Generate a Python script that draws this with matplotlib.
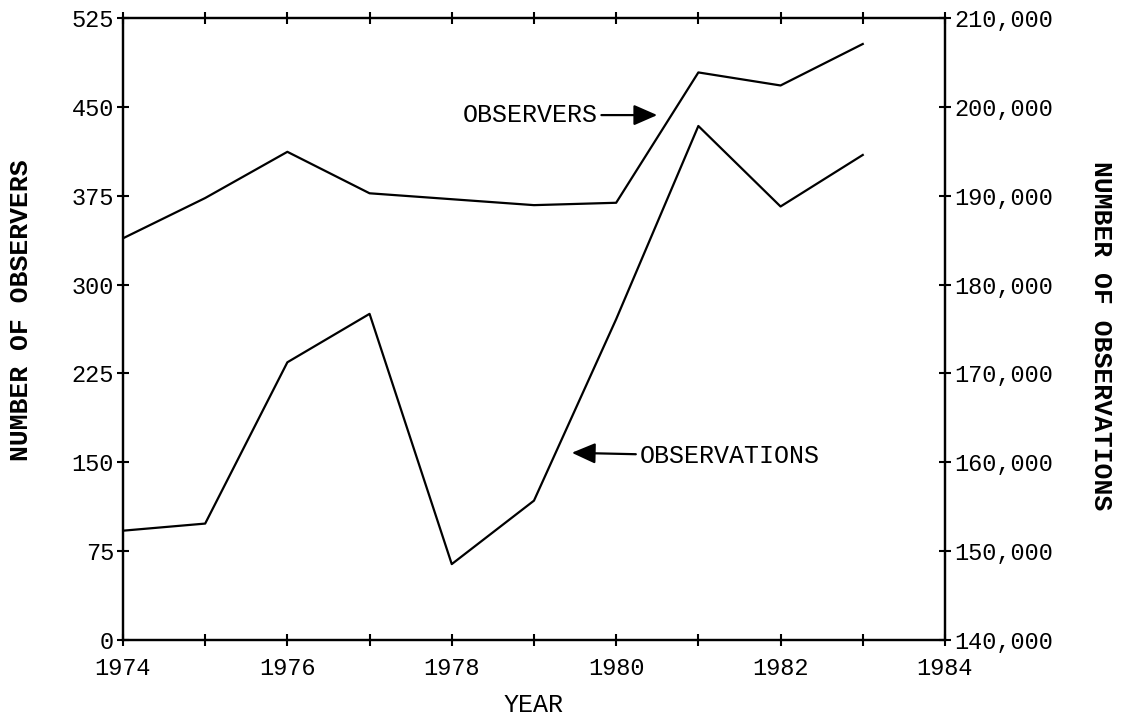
import numpy as np
import matplotlib
matplotlib.use('Agg')
import matplotlib.pyplot as plt
from matplotlib.ticker import FuncFormatter, MultipleLocator

plt.rcParams['font.family'] = ['Liberation Mono', 'DejaVu Sans Mono']

# data
years = [1974, 1975, 1976, 1977, 1978, 1979, 1980, 1981, 1982, 1983]
observers = [339, 373, 412, 377, 372, 367, 369, 479, 468, 503]
observations = [152300, 153100, 171250, 176700, 148540, 155680, 176100, 197840, 188780, 194580]

left_ticks = [0, 75, 150, 225, 300, 375, 450, 525]
right_ticks = [140000, 150000, 160000, 170000, 180000, 190000, 200000, 210000]
year_ticks = [1974, 1976, 1978, 1980, 1982, 1984]

fig = plt.figure(figsize=(11.22, 7.17), dpi=100)
ax = fig.add_axes([0.1096, 0.1074, 0.7326, 0.8676])
ax2 = ax.twinx()

ax.plot(years, observers, color='black', lw=1.6)
ax2.plot(years, observations, color='black', lw=1.6)

ax.set_xlim(1974, 1984)
ax.set_ylim(0, 525)
ax2.set_ylim(140000, 210000)

ax.set_xticks(year_ticks)
ax.xaxis.set_minor_locator(MultipleLocator(1))
ax.set_yticks(left_ticks)
ax2.set_yticks(right_ticks)
ax2.yaxis.set_major_formatter(FuncFormatter(lambda v, p: f'{int(v):,}'))

for a in (ax, ax2):
    for s in a.spines.values():
        s.set_linewidth(1.6)
    a.tick_params(which='both', direction='inout', length=9, width=1.5,
                  labelsize=17, pad=2)
ax.tick_params(which='both', top=True)
ax.tick_params(axis='x', pad=8)

ax.set_xlabel('YEAR', fontsize=18, va='center')
ax.xaxis.set_label_coords(0.5, -0.105)
ax.set_ylabel('NUMBER OF OBSERVERS', fontsize=19, fontweight='bold', va='center')
ax.yaxis.set_label_coords(-0.124, 0.53)
ax2.set_ylabel('NUMBER OF OBSERVATIONS', fontsize=19, fontweight='bold',
               rotation=-90, va='center')
ax2.yaxis.set_label_coords(1.19, 0.49)

arrow = dict(arrowstyle='-|>,head_length=0.8,head_width=0.35', color='black',
             lw=1.6, shrinkA=1, shrinkB=0)
ax.annotate('OBSERVERS', xy=(1980.5, 443), xytext=(1979.77, 443),
            ha='right', va='center', fontsize=18, arrowprops=arrow)
ax.annotate('OBSERVATIONS', xy=(1979.46, 158), xytext=(1980.29, 155),
            ha='left', va='center', fontsize=18, arrowprops=arrow)

fig.savefig('out.png', dpi=100)
